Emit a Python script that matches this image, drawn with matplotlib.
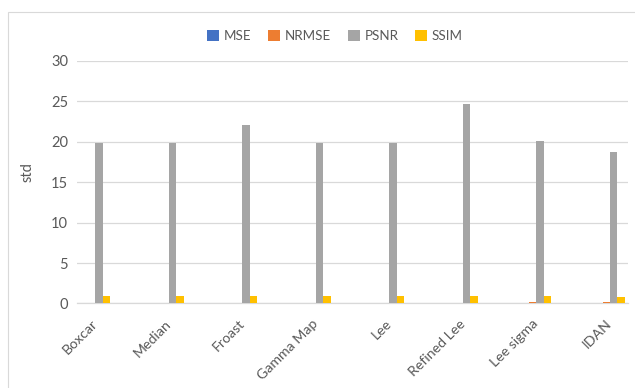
import matplotlib.pyplot as plt
import numpy as np
from matplotlib.patches import Rectangle

plt.rcParams["font.family"] = ["Lato", "DejaVu Sans"]

filters = ["Boxcar", "Median", "Froast", "Gamma Map", "Lee",
           "Refined Lee", "Lee sigma", "IDAN"]
mse = [0.002, 0.002, 0.001, 0.002, 0.002, 0.001, 0.002, 0.002]
nrmse = [0.12, 0.12, 0.07, 0.12, 0.12, 0.08, 0.13, 0.14]
psnr = [19.8, 19.8, 22.0, 19.8, 19.8, 24.7, 20.1, 18.7]
ssim = [0.88, 0.89, 0.95, 0.87, 0.89, 0.96, 0.91, 0.85]

series = [("MSE", mse, "#4472C4"), ("NRMSE", nrmse, "#ED7D31"),
          ("PSNR", psnr, "#A5A5A5"), ("SSIM", ssim, "#FFC000")]

TXT = "#595959"
GRID = "#D9D9D9"

fig = plt.figure(figsize=(6.35, 3.88), dpi=100)
ax = fig.add_axes([0.1213, 0.2178, 0.8677, 0.6258])

# chart area border
fig.patches.append(Rectangle((8 / 635, -0.1), 1.1, 1 - 12 / 388 + 0.1,
                             transform=fig.transFigure, fill=False,
                             edgecolor=GRID, linewidth=0.8))

x = np.arange(len(filters))
w = 0.1
for i, (name, vals, col) in enumerate(series):
    ax.bar(x + (i - 1.5) * w, vals, w, color=col, label=name, zorder=3)

ax.set_ylim(0, 30)
ax.set_yticks(range(0, 31, 5))
ax.set_xlim(-0.25, 7.245)
ax.set_xticks(x)
ax.set_xticklabels(filters, rotation=45, ha="right", va="center",
                   rotation_mode="anchor", color=TXT, fontsize=10.2)
ax.tick_params(axis="y", colors=TXT, labelsize=10.5, length=0, pad=6.5)
ax.tick_params(axis="x", length=0, pad=13)
ax.grid(axis="y", color=GRID, linewidth=0.9, zorder=0)
for s in ["top", "right", "left"]:
    ax.spines[s].set_visible(False)
ax.spines["bottom"].set_color(GRID)
ax.spines["bottom"].set_linewidth(0.9)
ax.set_ylabel("std", color=TXT, fontsize=10.5)
ax.yaxis.set_label_coords(-0.077, 0.54)

fig.legend(loc="center", bbox_to_anchor=(0.5276, 0.907), ncol=4,
           frameon=False, fontsize=9.6, handlelength=0.9, handleheight=0.9,
           handletextpad=0.35, columnspacing=1.25, labelcolor=TXT)

fig.savefig("out.png", dpi=100)
